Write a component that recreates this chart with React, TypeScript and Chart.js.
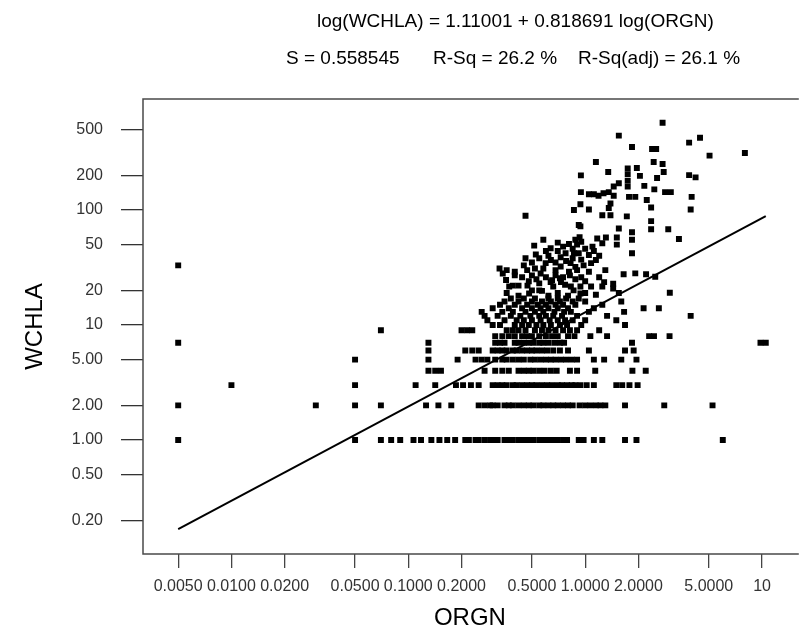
import { useEffect, useRef } from "react";
import { Chart, registerables } from "chart.js";
Chart.register(...registerables);

// Axis ticks
const xTickValues = [0.005, 0.01, 0.02, 0.05, 0.1, 0.2, 0.5, 1, 2, 5, 10];
const xTickLabels = ["0.0050", "0.0100", "0.0200", "0.0500", "0.1000", "0.2000", "0.5000", "1.0000", "2.0000", "5.0000", "10"];
const yTickValues = [0.2, 0.5, 1, 2, 5, 10, 20, 50, 100, 200, 500];
const yTickLabels = ["0.20", "0.50", "1.00", "2.00", "5.00", "10", "20", "50", "100", "200", "500"];

// Titles
const titleLine1 = "log(WCHLA) = 1.11001 + 0.818691 log(ORGN)";
const titleLine2 = ["S = 0.558545", "R-Sq = 26.2 %", "R-Sq(adj) = 26.1 %"];
const xTitle = "ORGN";
const yTitle = "WCHLA";

// WCHLA levels with the ORGN values observed at each level
const rowLevels = [1, 2, 3, 4, 5, 6, 7, 8, 9, 10, 11, 12, 13, 14, 15, 16, 17];
const rowOrgn: number[][] = [
  [0.005, 0.05, 0.07, 0.08, 0.09, 0.107, 0.118, 0.135, 0.15, 0.166, 0.184, 0.21, 0.22, 0.24, 0.25, 0.27, 0.29, 0.3, 0.32, 0.35, 0.37, 0.39, 0.42, 0.45, 0.48, 0.51, 0.55, 0.58, 0.62, 0.66, 0.7, 0.75, 0.79, 0.92, 0.98, 1.12, 1.25, 1.68, 1.95, 6.0],
  [0.005, 0.03, 0.05, 0.07, 0.126, 0.148, 0.175, 0.25, 0.27, 0.29, 0.3, 0.32, 0.35, 0.37, 0.39, 0.42, 0.45, 0.48, 0.51, 0.55, 0.58, 0.62, 0.66, 0.7, 0.75, 0.8, 0.85, 0.93, 1.0, 1.07, 1.15, 1.22, 1.3, 1.68, 2.8, 5.25],
  [0.01, 0.05, 0.11, 0.142, 0.186, 0.204, 0.226, 0.25, 0.3, 0.32, 0.34, 0.36, 0.39, 0.41, 0.44, 0.47, 0.5, 0.53, 0.57, 0.61, 0.65, 0.7, 0.74, 0.79, 0.84, 0.88, 0.94, 1.02, 1.12, 1.5, 1.62, 1.78, 1.98],
  [0.13, 0.142, 0.153, 0.27, 0.31, 0.34, 0.37, 0.42, 0.45, 0.48, 0.51, 0.55, 0.59, 0.64, 0.69, 0.82, 0.9, 1.14, 1.85, 2.2],
  [0.05, 0.13, 0.19, 0.24, 0.26, 0.28, 0.31, 0.34, 0.36, 0.39, 0.42, 0.45, 0.49, 0.52, 0.56, 0.6, 0.64, 0.68, 0.73, 0.78, 0.84, 0.9, 1.12, 1.28, 1.6, 1.95],
  [0.13, 0.21, 0.23, 0.25, 0.3, 0.32, 0.34, 0.36, 0.39, 0.41, 0.44, 0.47, 0.5, 0.53, 0.57, 0.61, 0.66, 0.72, 0.8, 1.05, 1.68, 1.88],
  [0.005, 0.13, 0.31, 0.33, 0.35, 0.4, 0.42, 0.45, 0.48, 0.51, 0.55, 0.58, 0.62, 0.67, 0.72, 0.76, 1.84, 9.8, 10.5],
  [0.31, 0.34, 0.37, 0.4, 0.44, 0.47, 0.5, 0.55, 0.6, 0.65, 0.7, 0.8, 0.87, 1.07, 1.33, 2.3, 2.45, 3.0],
  [0.07, 0.2, 0.215, 0.23, 0.36, 0.39, 0.42, 0.46, 0.52, 0.57, 0.62, 0.68, 0.75, 0.82, 0.9, 1.2],
  [0.3, 0.33, 0.4, 0.44, 0.48, 0.53, 0.58, 0.64, 0.72, 0.79, 0.95, 1.68],
  [0.28, 0.35, 0.41, 0.45, 0.5, 0.56, 0.63, 0.7, 0.77, 0.85, 1.0, 1.5],
  [0.27, 0.32, 0.38, 0.43, 0.49, 0.55, 0.6, 0.66, 0.74, 0.9, 1.33, 3.95],
  [0.26, 0.34, 0.39, 0.46, 0.52, 0.58, 0.67, 0.76, 0.83, 1.05, 1.66],
  [0.3, 0.37, 0.44, 0.5, 0.56, 0.62, 0.7, 0.8, 1.12, 2.14, 2.61],
  [0.33, 0.4, 0.47, 0.54, 0.6, 0.68, 0.75, 0.88, 1.25],
  [0.35, 0.42, 0.5, 0.57, 0.64, 0.72, 0.85, 1.0, 1.6],
  [0.38, 0.45, 0.52, 0.62, 0.7, 0.78, 0.92],
];

// Scattered points above WCHLA = 17: [ORGN, WCHLA]
const midPoints: [number, number][] = [
  [0.005, 33],
  [0.328, 31], [0.342, 28], [0.357, 24.6], [0.372, 21.6], [0.39, 22], [0.42, 22], [0.472, 22], [0.482, 18.8],
  [0.55, 23], [0.57, 19.8], [0.638, 23.6], [0.66, 21.6], [0.73, 23.6], [0.77, 22.4], [0.83, 21.6], [0.94, 21.6],
  [0.94, 18.8], [1.08, 21.6], [1.15, 18.3], [1.25, 21.6], [1.28, 23.6], [1.44, 22.8], [1.44, 20.8],
  [1.65, 27.6], [1.92, 28.1], [2.21, 27.6], [2.49, 26.3], [3.01, 19.1], [1.55, 19],
  [0.526, 41], [0.598, 34.5], [0.52, 31], [0.46, 38], [0.64, 36.7], [0.727, 38.8], [0.727, 32.2], [0.827, 34.5],
  [0.81, 29], [1.05, 40.6], [1.08, 34.5], [1.15, 36.7], [1.05, 29],
  [0.515, 49], [0.638, 46.5], [0.81, 50.7], [0.775, 42], [0.864, 42], [0.92, 42], [0.9, 50], [0.95, 53],
  [0.93, 58], [0.88, 55], [1.17, 56.6], [1.25, 51.3], [1.31, 57.7], [1.51, 57.7], [1.51, 50], [1.84, 42],
  [0.36, 30], [0.4, 27], [0.44, 26], [0.5, 27], [0.56, 28], [0.6, 26], [0.68, 27], [0.75, 26], [0.88, 25],
  [1.0, 24], [0.45, 33], [0.58, 31], [0.68, 30], [0.9, 30], [0.98, 33], [0.62, 40], [0.7, 44], [0.85, 38],
  [0.95, 37], [1.0, 46], [1.12, 44], [0.55, 20], [0.62, 18], [0.7, 19], [0.8, 18], [0.86, 20], [1.0, 19],
  [0.42, 18], [0.5, 20], [0.36, 19],
  [0.48, 24], [0.53, 25], [0.65, 24.5], [0.72, 25.5], [0.82, 27], [0.95, 26], [0.4, 29], [0.5, 35],
  [0.55, 38], [0.68, 35], [0.78, 36], [0.88, 32], [0.6, 44], [0.75, 48], [0.85, 46], [1.1, 48],
  [1.2, 40], [0.7, 52], [0.58, 55], [1.3, 30], [1.2, 26], [0.47, 30],
];

const highPoints: [number, number][] = [
  [2.74, 574], [1.55, 443], [3.87, 385], [4.46, 425], [1.84, 353], [2.39, 339], [2.52, 339], [5.05, 297],
  [8.0, 313], [1.15, 261], [2.44, 261], [2.74, 251], [1.35, 214], [1.74, 230], [1.74, 205], [1.74, 180],
  [1.74, 160], [1.96, 232], [2.04, 198], [2.16, 162], [2.78, 214], [2.55, 190], [3.87, 201], [4.21, 192],
  [0.946, 200], [1.55, 171], [1.45, 160], [0.946, 143], [1.05, 137], [1.12, 137], [1.19, 133], [1.27, 140],
  [1.36, 143], [1.45, 133], [1.77, 130], [1.92, 130], [2.23, 122], [2.46, 151], [2.83, 143], [3.05, 143],
  [4.0, 130], [2.36, 105], [3.95, 101], [0.864, 100], [0.94, 112], [1.05, 101], [1.25, 90], [1.39, 90],
  [1.36, 104], [1.39, 114], [1.72, 88], [0.46, 89], [2.36, 80], [2.36, 68], [2.95, 68], [3.39, 56],
  [0.92, 74], [0.94, 72], [1.55, 69], [1.84, 64], [1.84, 55],
];

// Fitted regression line end points
const fitLine = [
  { x: 0.005, y: 0.168 },
  { x: 10.5, y: 88.3 },
];

const FONT = "Arial, 'Liberation Sans', sans-serif";

export default function App() {
  const ref = useRef<HTMLCanvasElement | null>(null);

  useEffect(() => {
    const canvas = ref.current;
    if (!canvas) return;

    const pts: { x: number; y: number }[] = [];
    rowLevels.forEach((lvl, i) => rowOrgn[i].forEach((x) => pts.push({ x, y: lvl })));
    midPoints.forEach(([x, y]) => pts.push({ x, y }));
    highPoints.forEach(([x, y]) => pts.push({ x, y }));

    const framePlugin = {
      id: "frameAndText",
      afterDraw(chart: any) {
        const { ctx, chartArea } = chart;
        ctx.save();
        ctx.strokeStyle = "#4a4a4a";
        ctx.lineWidth = 1.5;
        ctx.beginPath();
        ctx.moveTo(chartArea.right + 2, chartArea.top);
        ctx.lineTo(chartArea.left, chartArea.top);
        ctx.lineTo(chartArea.left, chartArea.bottom);
        ctx.lineTo(chartArea.right + 2, chartArea.bottom);
        ctx.stroke();

        ctx.fillStyle = "#000";
        ctx.textBaseline = "middle";
        ctx.textAlign = "left";
        ctx.font = `19px ${FONT}`;
        ctx.fillText(titleLine1, 317, 22);
        const xs = [286, 433, 578];
        titleLine2.forEach((t, i) => ctx.fillText(t, xs[i], 59));

        ctx.font = `24px ${FONT}`;
        ctx.textAlign = "center";
        ctx.fillText(xTitle, (chartArea.left + chartArea.right) / 2, 618);
        ctx.translate(35, (chartArea.top + chartArea.bottom) / 2);
        ctx.rotate(-Math.PI / 2);
        ctx.fillText(yTitle, 0, 0);
        ctx.restore();
      },
    };

    const chart = new Chart(canvas, {
      type: "scatter",
      data: {
        datasets: [
          {
            type: "scatter",
            data: pts,
            pointStyle: "rect",
            pointRadius: 4.2,
            pointBackgroundColor: "#000",
            pointBorderWidth: 0,
            borderWidth: 0,
          } as any,
          {
            type: "line",
            data: fitLine,
            borderColor: "#000",
            borderWidth: 2,
            pointRadius: 0,
            fill: false,
          } as any,
        ],
      },
      options: {
        responsive: false,
        animation: false,
        events: [],
        layout: { padding: { top: 99, left: 0, right: 0, bottom: 0 } },
        plugins: { legend: { display: false }, tooltip: { enabled: false }, title: { display: false } },
        scales: {
          x: {
            type: "logarithmic",
            position: "bottom",
            min: Math.pow(10, -2.5),
            max: Math.pow(10, 1.1966),
            afterBuildTicks: (scale: any) => {
              scale.ticks = xTickValues.map((v) => ({ value: v }));
            },
            afterFit: (scale: any) => {
              scale.height = 81;
            },
            border: { display: false },
            grid: { display: true, drawOnChartArea: false, drawTicks: true, tickLength: 14, color: "#444", lineWidth: 1.3 },
            ticks: {
              autoSkip: false,
              maxRotation: 0,
              minRotation: 0,
              padding: 9,
              color: "#333",
              font: { family: FONT, size: 16 },
              callback: (value: any) => {
                const i = xTickValues.findIndex((v) => Math.abs(v - Number(value)) < v * 1e-6);
                return i >= 0 ? xTickLabels[i] : "";
              },
            },
          },
          y: {
            type: "logarithmic",
            position: "left",
            min: Math.pow(10, -0.9913),
            max: Math.pow(10, 2.965),
            afterBuildTicks: (scale: any) => {
              scale.ticks = yTickValues.map((v) => ({ value: v }));
            },
            afterFit: (scale: any) => {
              scale.width = 143;
            },
            border: { display: false },
            grid: { display: true, drawOnChartArea: false, drawTicks: true, tickLength: 22, color: "#333", lineWidth: 1.3 },
            ticks: {
              autoSkip: false,
              padding: 18,
              color: "#333",
              font: { family: FONT, size: 16 },
              callback: (value: any) => {
                const i = yTickValues.findIndex((v) => Math.abs(v - Number(value)) < v * 1e-6);
                return i >= 0 ? yTickLabels[i] : "";
              },
            },
          },
        },
      },
      plugins: [framePlugin],
    });

    return () => chart.destroy();
  }, []);

  return (
    <div style={{ position: "absolute", left: 0, top: 0, width: 801, height: 635, background: "#fff" }}>
      <canvas ref={ref} width={801} height={635} style={{ display: "block" }} />
    </div>
  );
}
